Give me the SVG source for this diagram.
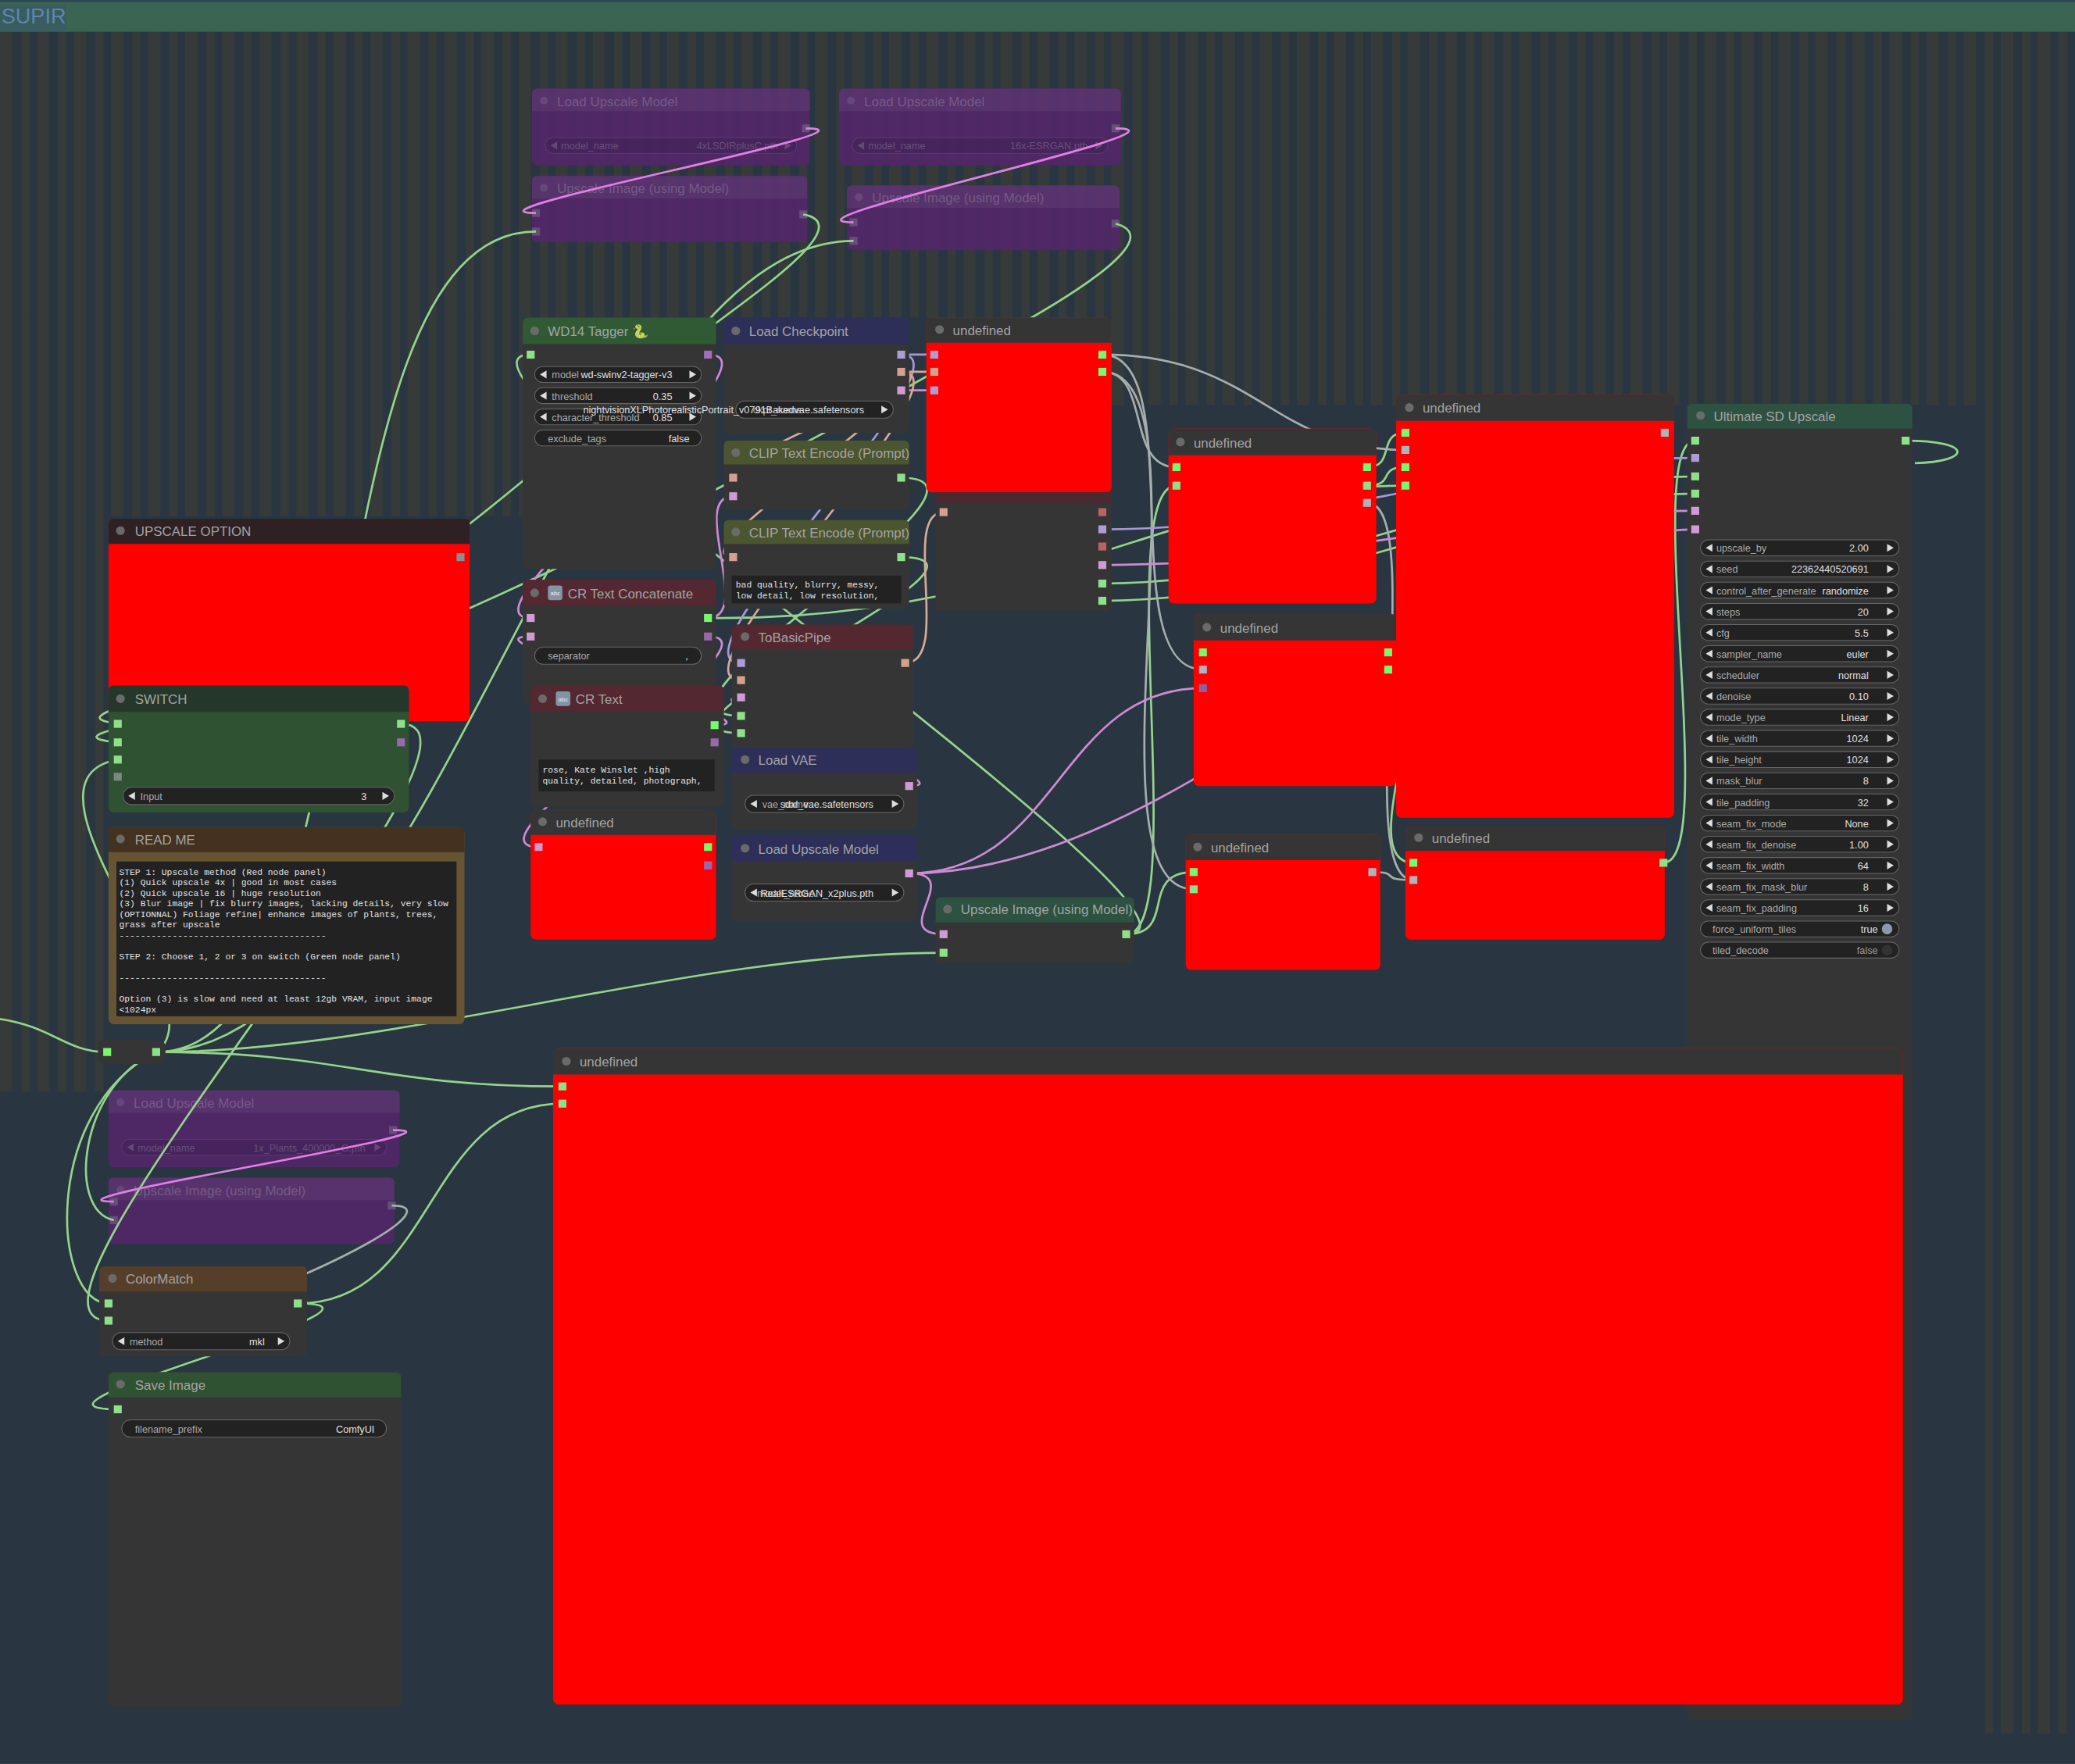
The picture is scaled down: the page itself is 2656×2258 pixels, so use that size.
<svg xmlns="http://www.w3.org/2000/svg" width="2656" height="2258" viewBox="0 0 2656 2258">
<defs>
<pattern id="st" x="0" y="0" width="28" height="10" patternUnits="userSpaceOnUse"><rect x="0" y="0" width="9" height="10" fill="#363b3a"/><rect x="16" y="0" width="6" height="10" fill="#363b3a"/></pattern>
<style>
.t{font-family:"Liberation Sans",Arial,sans-serif;font-size:10px;fill:#a3a3a3}
.ft{font-family:"Liberation Sans",Arial,sans-serif;font-size:10px;fill:#7d5e8f}
.wl{font-family:"Liberation Sans",Arial,sans-serif;font-size:7.5px;fill:#ababab}
.wv{font-family:"Liberation Sans",Arial,sans-serif;font-size:7.5px;fill:#e0e0e0;text-anchor:end}
.fw{font-family:"Liberation Sans",Arial,sans-serif;font-size:7.5px;fill:#6f5282}
.fwv{font-family:"Liberation Sans",Arial,sans-serif;font-size:7.5px;fill:#6f5282;text-anchor:end}
.m{font-family:"Liberation Mono","DejaVu Sans Mono",monospace;font-size:6.7px;fill:#e2e2e2}
.bd{fill:#353535}
.red{fill:#ff0000}
.hd{fill:#353535}
.dot{fill:#6a6a6a}
.wg{fill:#222;stroke:#666;stroke-width:0.6}
.fwg{fill:#4a2260;stroke:#5e3a72;stroke-width:0.6}
.ar{fill:#dddddd}
.far{fill:#6a4a7e}
.sg{fill:#8fe08a}
.sG{fill:#76f86f}
.sp{fill:#9868ac}
.sk{fill:#d09ad4}
.ss{fill:#d6a08e}
.sy{fill:#aeb4bc}
.sl{fill:#ad9dd6}
.sr{fill:#b86464}
.fn{fill:#53276a}
.fh{fill:#5c3372}
path.lg,path.lk,path.ll,path.ls,path.ly,path.lf{fill:none;stroke-width:1.6}
.lg{stroke:#95d38a}
.lk{stroke:#cf8ad2}
.ll{stroke:#a898d4}
.ls{stroke:#d9a891}
.ly{stroke:#a6adad}
.lf{stroke:#e27fe4}
</style>
</defs>
<g transform="scale(1.693878)">
<g id="background">
<rect x="0" y="0" width="1568" height="1333" fill="#293641"/>
<rect x="0" y="24" width="1568" height="216" fill="url(#st)"/>
<rect x="0" y="240" width="395" height="150" fill="url(#st)"/>
<rect x="0" y="390" width="80" height="435" fill="url(#st)"/>
<rect x="840" y="240" width="660" height="66" fill="url(#st)"/>
<rect x="1500" y="24" width="68" height="1286" fill="url(#st)"/>
<rect x="0" y="0" width="1568" height="24" fill="#3c6452"/>
<rect x="0" y="0" width="1568" height="1.5" fill="#2c4858"/>
<rect x="0" y="4" width="50" height="20" fill="#35566a" opacity="0.6"/>
<text x="1" y="18" font-family="'Liberation Sans',Arial,sans-serif" font-size="16" fill="#5f86a8">SUPIR</text>
</g>

<g id="n-faded-load-upscale-1" opacity="0.9">
<rect x="402" y="67" width="210" height="58" rx="4" class="fn"/>
<path d="M402,84 V71 Q402,67 406,67 H608 Q612,67 612,71 V84 Z" class="fh"/>
<circle cx="411" cy="76" r="3" fill="#6c4a80"/>
<text x="421" y="80" class="ft">Load Upscale Model</text>
<rect x="412" y="104" width="190" height="12" rx="6" class="fwg"/>
<polygon points="416,110 421,107 421,113" class="far"/>
<polygon points="598,110 593,107 593,113" class="far"/>
<text x="424" y="113" class="fw">model_name</text>
<text x="588" y="113" class="fwv">4xLSDIRplusC.pth</text>
<rect x="606" y="94" width="6" height="6" fill="#6c5280"/>
</g>
<g id="n-faded-upscale-1" opacity="0.9">
<rect x="402" y="133" width="208" height="50" rx="4" class="fn"/>
<path d="M402,150 V137 Q402,133 406,133 H606 Q610,133 610,137 V150 Z" class="fh"/>
<circle cx="411" cy="142" r="3" fill="#6c4a80"/>
<text x="421" y="146" class="ft">Upscale Image (using Model)</text>
<rect x="402" y="158" width="6" height="6" fill="#6c5280"/>
<rect x="402" y="172" width="6" height="6" fill="#6c5280"/>
<rect x="604" y="159" width="6" height="6" fill="#6c5280"/>
</g>
<g id="n-faded-load-upscale-2" opacity="0.9">
<rect x="634" y="67" width="213" height="58" rx="4" class="fn"/>
<path d="M634,84 V71 Q634,67 638,67 H843 Q847,67 847,71 V84 Z" class="fh"/>
<circle cx="643" cy="76" r="3" fill="#6c4a80"/>
<text x="653" y="80" class="ft">Load Upscale Model</text>
<rect x="644" y="104" width="193" height="12" rx="6" class="fwg"/>
<polygon points="648,110 653,107 653,113" class="far"/>
<polygon points="833,110 828,107 828,113" class="far"/>
<text x="656" y="113" class="fw">model_name</text>
<text x="822" y="113" class="fwv">16x-ESRGAN.pth</text>
<rect x="840" y="94" width="6" height="6" fill="#6c5280"/>
</g>
<g id="n-faded-upscale-2" opacity="0.9">
<rect x="640" y="140" width="206" height="49" rx="4" class="fn"/>
<path d="M640,157 V144 Q640,140 644,140 H842 Q846,140 846,144 V157 Z" class="fh"/>
<circle cx="649" cy="149" r="3" fill="#6c4a80"/>
<text x="659" y="153" class="ft">Upscale Image (using Model)</text>
<rect x="642" y="165" width="6" height="6" fill="#6c5280"/>
<rect x="642" y="179" width="6" height="6" fill="#6c5280"/>
<rect x="840" y="166" width="6" height="6" fill="#6c5280"/>
</g>
<g id="n-faded-load-upscale-3" opacity="0.9">
<rect x="82" y="824" width="220" height="58" rx="4" class="fn"/>
<path d="M82,841 V828 Q82,824 86,824 H298 Q302,824 302,828 V841 Z" class="fh"/>
<circle cx="91" cy="833" r="3" fill="#6c4a80"/>
<text x="101" y="837" class="ft">Load Upscale Model</text>
<rect x="92" y="861" width="200" height="12" rx="6" class="fwg"/>
<polygon points="96,867 101,864 101,870" class="far"/>
<polygon points="288,867 283,864 283,870" class="far"/>
<text x="104" y="870" class="fw">model_name</text>
<text x="276" y="870" class="fwv">1x_Plants_400000_G.pth</text>
<rect x="294" y="851" width="6" height="6" fill="#6c5280"/>
</g>
<g id="n-faded-upscale-3" opacity="0.9">
<rect x="82" y="890" width="216" height="50" rx="4" class="fn"/>
<path d="M82,907 V894 Q82,890 86,890 H294 Q298,890 298,894 V907 Z" class="fh"/>
<circle cx="91" cy="899" r="3" fill="#6c4a80"/>
<text x="101" y="903" class="ft">Upscale Image (using Model)</text>
<rect x="83" y="905" width="6" height="6" fill="#6c5280"/>
<rect x="83" y="919" width="6" height="6" fill="#6c5280"/>
<rect x="293" y="908" width="6" height="6" fill="#6c5280"/>
</g>

<g id="connectors">
<path class="lg" d="M0,770 C40,776 50,795 81,795"/>
<path class="lg" d="M118,795 C260,795 283,821 425,821"/>
<path class="lg" d="M118,795 C300,795 520,720 713,720"/>
<path class="lg" d="M118,795 C290,795 225,175 405,175"/>
<path class="lg" d="M118,795 C330,795 440,182 645,182"/>
<path class="lg" d="M118,795 C60,820 50,915 86,922"/>
<path class="lg" d="M118,795 C30,840 40,985 82,985"/>
<path class="lg" d="M303,547 C400,547 -18,998 82,998"/>
<path class="lg" d="M225,985 C330,985 320,834 425,834"/>
<path class="lg" d="M225,985 C325,985 -11,1065 89,1065"/>
<path class="lg" d="M607,162 C650,170 565,225 520,260 C420,340 360,400 250,470 C130,530 40,540 89,547"/>
<path class="lg" d="M843,169 C885,180 800,230 740,262 C560,365 330,480 200,520 C110,548 40,556 89,561"/>
<path class="lg" d="M118,795 C170,760 0,590 89,574"/>
<path class="lg" d="M851,706 C900,706 840,367 889,367"/>
<path class="lg" d="M851,706 C890,706 860,659 902,659"/>
<path class="lg" d="M851,706 C951,706 301,268 401,268"/>
<path class="lg" d="M833,441 C1000,441 1110,360 1281,360"/>
<path class="lg" d="M833,454 C1000,454 1110,373 1281,373"/>
<path class="lg" d="M681,361 C781,361 460,541 560,541"/>
<path class="lg" d="M681,421 C781,421 460,554 560,554"/>
<path class="lg" d="M535,467 C780,470 900,367 1062,367"/>
<path class="lg" d="M1033,353 C1055,353 1040,327 1062,327"/>
<path class="lg" d="M1033,367 C1055,367 1040,353 1062,353"/>
<path class="lg" d="M1257,652 C1300,652 1240,333 1281,333"/>
<path class="lg" d="M1440,333 C1492,333 1490,349 1447,350"/>
<path class="lg" d="M1049,493 C1100,493 1018,652 1068,652"/>
<path class="ly" d="M833,268 C950,268 960,340 1062,340"/>
<path class="ly" d="M833,281 C870,281 850,353 889,353"/>
<path class="ly" d="M833,268 C900,268 840,506 909,506"/>
<path class="ly" d="M833,281 C920,281 815,672 902,672"/>
<path class="ly" d="M1033,380 C1080,380 1020,665 1068,665"/>
<path class="ly" d="M1037,659 C1060,659 1040,665 1068,665"/>
<path class="ly" d="M348,421 C400,421 40,587 89,587"/>
<path class="ly" d="M296,911 C340,911 250,960 160,990"/>
<path class="lk" d="M535,268 C600,268 340,467 401,467"/>
<path class="lk" d="M540,548 C600,548 340,481 401,481"/>
<path class="lk" d="M535,467 C570,467 520,375 554,375"/>
<path class="lk" d="M535,481 C600,481 340,640 407,640"/>
<path class="lk" d="M687,660 C800,660 800,520 909,520"/>
<path class="lk" d="M687,660 C730,660 670,706 713,706"/>
<path class="lk" d="M833,427 C1000,427 1110,386 1281,386"/>
<path class="lk" d="M687,594 C740,594 510,527 560,527"/>
<path class="lk" d="M681,295 C693,295 694,295 706,295"/>
<path class="lk" d="M687,660 C900,660 1100,400 1281,400"/>
<path class="ll" d="M681,268 C693,268 694,268 706,268"/>
<path class="ll" d="M681,268 C740,268 500,501 560,501"/>
<path class="ll" d="M833,400 C1000,400 1110,346 1281,346"/>
<path class="ls" d="M681,281 L706,281"/>
<path class="ls" d="M681,281 C720,281 515,361 554,361"/>
<path class="ls" d="M681,281 C730,281 505,421 554,421"/>
<path class="ls" d="M684,501 C720,501 680,387 713,387"/>
<path class="ls" d="M681,281 C740,281 500,514 560,514"/>
<path class="lf" d="M609,97 C680,97 335,161 405,161"/>
<path class="lf" d="M843,97 C915,97 575,168 645,168"/>
<path class="lf" d="M297,854 C370,854 15,908 86,908"/>
</g>

<g id="n-upscale-option">
<rect x="82" y="392" width="273" height="153" rx="4" class="red"/>
<path d="M82,411 V396 Q82,392 86,392 H351 Q355,392 355,396 V411 Z" fill="#2f2123"/>
<circle cx="91" cy="401" r="3.3" class="dot"/>
<text x="102" y="405" class="t">UPSCALE OPTION</text>
<rect x="345" y="418" width="6" height="6" fill="#8a8f96"/>
</g>

<g id="n-switch">
<rect x="82" y="518" width="227" height="96" rx="4" fill="#2f5233"/>
<path d="M82,538 V522 Q82,518 86,518 H305 Q309,518 309,522 V538 Z" fill="#25372a"/>
<circle cx="91" cy="528" r="3.3" class="dot"/>
<text x="102" y="532" class="t">SWITCH</text>
<rect x="86" y="544" width="6" height="6" class="sg"/>
<rect x="86" y="558" width="6" height="6" class="sg"/>
<rect x="86" y="571" width="6" height="6" class="sg"/>
<rect x="86" y="584" width="6" height="6" fill="#7a8a80"/>
<rect x="300" y="544" width="6" height="6" class="sg"/>
<rect x="300" y="558" width="6" height="6" class="sp"/>
<rect x="93" y="595" width="205" height="13" rx="6.5" class="wg"/>
<polygon points="97,601.5 102,598.5 102,604.5" class="ar"/>
<polygon points="294,601.5 289,598.5 289,604.5" class="ar"/>
<text x="106" y="604.5" class="wl">Input</text>
<text x="277" y="604.5" class="wv">3</text>
</g>

<g id="n-readme">
<rect x="82" y="625" width="269" height="149" rx="4" fill="#665433"/>
<path d="M82,644 V629 Q82,625 86,625 H347 Q351,625 351,629 V644 Z" fill="#44311f"/>
<circle cx="91" cy="634" r="3.3" class="dot"/>
<text x="102" y="638" class="t">READ ME</text>
<rect x="88" y="651" width="257" height="117" fill="#222222"/>
<text x="90" y="661" class="m">STEP 1: Upscale method (Red node panel)</text>
<text x="90" y="669" class="m">(1) Quick upscale 4x | good in most cases</text>
<text x="90" y="677" class="m">(2) Quick upscale 16 | huge resolution</text>
<text x="90" y="685" class="m">(3) Blur image | fix blurry images, lacking details, very slow</text>
<text x="90" y="693" class="m">(OPTIONNAL) Foliage refine| enhance images of plants, trees,</text>
<text x="90" y="701" class="m">grass after upscale</text>
<text x="90" y="709" class="m">---------------------------------------</text>
<text x="90" y="725" class="m">STEP 2: Choose 1, 2 or 3 on switch (Green node panel)</text>
<text x="90" y="741" class="m">---------------------------------------</text>
<text x="90" y="757" class="m">Option (3) is slow and need at least 12gb VRAM, input image</text>
<text x="90" y="765" class="m">&lt;1024px</text>
</g>

<g id="n-reroute">
<rect x="74" y="786" width="51" height="18" rx="5" class="bd"/>
<rect x="78" y="792" width="6" height="6" class="sG"/>
<rect x="115" y="792" width="6" height="6" class="sg"/>
</g>

<g id="n-colormatch">
<rect x="75" y="957" width="157" height="68" rx="4" class="bd"/>
<path d="M75,976 V961 Q75,957 79,957 H228 Q232,957 232,961 V976 Z" fill="#563f2a"/>
<circle cx="85" cy="966" r="3.3" class="dot"/>
<text x="95" y="970" class="t">ColorMatch</text>
<rect x="79" y="982" width="6" height="6" class="sg"/>
<rect x="79" y="995" width="6" height="6" class="sg"/>
<rect x="222" y="982" width="6" height="6" class="sg"/>
<rect x="85" y="1007" width="134" height="13" rx="6.5" class="wg"/>
<polygon points="89,1013.5 94,1010.5 94,1016.5" class="ar"/>
<polygon points="215,1013.5 210,1010.5 210,1016.5" class="ar"/>
<text x="98" y="1016.5" class="wl">method</text>
<text x="200" y="1016.5" class="wv">mkl</text>
</g>

<g id="n-save-image">
<rect x="82" y="1037" width="221" height="253" rx="4" class="bd"/>
<path d="M82,1056 V1041 Q82,1037 86,1037 H299 Q303,1037 303,1041 V1056 Z" fill="#2f5233"/>
<circle cx="91" cy="1046" r="3.3" class="dot"/>
<text x="102" y="1050" class="t">Save Image</text>
<rect x="86" y="1062" width="6" height="6" class="sg"/>
<rect x="92" y="1073" width="200" height="13" rx="6.5" class="wg"/>
<text x="102" y="1082.5" class="wl">filename_prefix</text>
<text x="283" y="1082.5" class="wv">ComfyUI</text>
</g>

<g id="n-ultimate-sd-upscale">
<rect x="1275" y="305" width="170" height="995" rx="4" class="bd"/>
<path d="M1275,324 V309 Q1275,305 1279,305 H1441 Q1445,305 1445,309 V324 Z" fill="#2d5242"/>
<circle cx="1285" cy="314" r="3.3" class="dot"/>
<text x="1295" y="318" class="t">Ultimate SD Upscale</text>
<rect x="1278" y="330" width="6" height="6" class="sg"/>
<rect x="1278" y="343" width="6" height="6" class="sl"/>
<rect x="1278" y="357" width="6" height="6" class="sg"/>
<rect x="1278" y="370" width="6" height="6" class="sg"/>
<rect x="1278" y="383" width="6" height="6" class="sk"/>
<rect x="1278" y="397" width="6" height="6" class="sk"/>
<rect x="1437" y="330" width="6" height="6" class="sg"/>
<g>
<rect x="1285" y="408" width="150" height="12" rx="6" class="wg"/><polygon points="1289,414 1294,411 1294,417" class="ar"/><polygon points="1431,414 1426,411 1426,417" class="ar"/><text x="1297" y="417" class="wl">upscale_by</text><text x="1412" y="417" class="wv">2.00</text>
<rect x="1285" y="424" width="150" height="12" rx="6" class="wg"/><polygon points="1289,430 1294,427 1294,433" class="ar"/><polygon points="1431,430 1426,427 1426,433" class="ar"/><text x="1297" y="433" class="wl">seed</text><text x="1412" y="433" class="wv">22362440520691</text>
<rect x="1285" y="440" width="150" height="12" rx="6" class="wg"/><polygon points="1289,446 1294,443 1294,449" class="ar"/><polygon points="1431,446 1426,443 1426,449" class="ar"/><text x="1297" y="449" class="wl">control_after_generate</text><text x="1412" y="449" class="wv">randomize</text>
<rect x="1285" y="456" width="150" height="12" rx="6" class="wg"/><polygon points="1289,462 1294,459 1294,465" class="ar"/><polygon points="1431,462 1426,459 1426,465" class="ar"/><text x="1297" y="465" class="wl">steps</text><text x="1412" y="465" class="wv">20</text>
<rect x="1285" y="472" width="150" height="12" rx="6" class="wg"/><polygon points="1289,478 1294,475 1294,481" class="ar"/><polygon points="1431,478 1426,475 1426,481" class="ar"/><text x="1297" y="481" class="wl">cfg</text><text x="1412" y="481" class="wv">5.5</text>
<rect x="1285" y="488" width="150" height="12" rx="6" class="wg"/><polygon points="1289,494 1294,491 1294,497" class="ar"/><polygon points="1431,494 1426,491 1426,497" class="ar"/><text x="1297" y="497" class="wl">sampler_name</text><text x="1412" y="497" class="wv">euler</text>
<rect x="1285" y="504" width="150" height="12" rx="6" class="wg"/><polygon points="1289,510 1294,507 1294,513" class="ar"/><polygon points="1431,510 1426,507 1426,513" class="ar"/><text x="1297" y="513" class="wl">scheduler</text><text x="1412" y="513" class="wv">normal</text>
<rect x="1285" y="520" width="150" height="12" rx="6" class="wg"/><polygon points="1289,526 1294,523 1294,529" class="ar"/><polygon points="1431,526 1426,523 1426,529" class="ar"/><text x="1297" y="529" class="wl">denoise</text><text x="1412" y="529" class="wv">0.10</text>
<rect x="1285" y="536" width="150" height="12" rx="6" class="wg"/><polygon points="1289,542 1294,539 1294,545" class="ar"/><polygon points="1431,542 1426,539 1426,545" class="ar"/><text x="1297" y="545" class="wl">mode_type</text><text x="1412" y="545" class="wv">Linear</text>
<rect x="1285" y="552" width="150" height="12" rx="6" class="wg"/><polygon points="1289,558 1294,555 1294,561" class="ar"/><polygon points="1431,558 1426,555 1426,561" class="ar"/><text x="1297" y="561" class="wl">tile_width</text><text x="1412" y="561" class="wv">1024</text>
<rect x="1285" y="568" width="150" height="12" rx="6" class="wg"/><polygon points="1289,574 1294,571 1294,577" class="ar"/><polygon points="1431,574 1426,571 1426,577" class="ar"/><text x="1297" y="577" class="wl">tile_height</text><text x="1412" y="577" class="wv">1024</text>
<rect x="1285" y="584" width="150" height="12" rx="6" class="wg"/><polygon points="1289,590 1294,587 1294,593" class="ar"/><polygon points="1431,590 1426,587 1426,593" class="ar"/><text x="1297" y="593" class="wl">mask_blur</text><text x="1412" y="593" class="wv">8</text>
<rect x="1285" y="600" width="150" height="12" rx="6" class="wg"/><polygon points="1289,606 1294,603 1294,609" class="ar"/><polygon points="1431,606 1426,603 1426,609" class="ar"/><text x="1297" y="609" class="wl">tile_padding</text><text x="1412" y="609" class="wv">32</text>
<rect x="1285" y="616" width="150" height="12" rx="6" class="wg"/><polygon points="1289,622 1294,619 1294,625" class="ar"/><polygon points="1431,622 1426,619 1426,625" class="ar"/><text x="1297" y="625" class="wl">seam_fix_mode</text><text x="1412" y="625" class="wv">None</text>
<rect x="1285" y="632" width="150" height="12" rx="6" class="wg"/><polygon points="1289,638 1294,635 1294,641" class="ar"/><polygon points="1431,638 1426,635 1426,641" class="ar"/><text x="1297" y="641" class="wl">seam_fix_denoise</text><text x="1412" y="641" class="wv">1.00</text>
<rect x="1285" y="648" width="150" height="12" rx="6" class="wg"/><polygon points="1289,654 1294,651 1294,657" class="ar"/><polygon points="1431,654 1426,651 1426,657" class="ar"/><text x="1297" y="657" class="wl">seam_fix_width</text><text x="1412" y="657" class="wv">64</text>
<rect x="1285" y="664" width="150" height="12" rx="6" class="wg"/><polygon points="1289,670 1294,667 1294,673" class="ar"/><polygon points="1431,670 1426,667 1426,673" class="ar"/><text x="1297" y="673" class="wl">seam_fix_mask_blur</text><text x="1412" y="673" class="wv">8</text>
<rect x="1285" y="680" width="150" height="12" rx="6" class="wg"/><polygon points="1289,686 1294,683 1294,689" class="ar"/><polygon points="1431,686 1426,683 1426,689" class="ar"/><text x="1297" y="689" class="wl">seam_fix_padding</text><text x="1412" y="689" class="wv">16</text>
<rect x="1285" y="696" width="150" height="12" rx="6" class="wg"/><text x="1294" y="705" class="wl">force_uniform_tiles</text><text x="1419" y="705" class="wv">true</text><circle cx="1426" cy="702" r="4" fill="#8e98ac"/>
<rect x="1285" y="712" width="150" height="12" rx="6" class="wg"/><text x="1294" y="721" class="wl">tiled_decode</text><text x="1419" y="721" class="wv" style="fill:#999">false</text><circle cx="1426" cy="718" r="4" fill="#333"/>
</g>
</g>

<g id="n-undefined-big">
<rect x="418" y="792" width="1020" height="496" rx="4" class="red"/>
<path d="M418,812 V796 Q418,792 422,792 H1434 Q1438,792 1438,796 V812 Z" class="hd"/>
<circle cx="428" cy="802" r="3.3" class="dot"/>
<text x="438" y="806" class="t">undefined</text>
<rect x="422" y="818" width="6" height="6" class="sg"/>
<rect x="422" y="831" width="6" height="6" class="sg"/>
</g>

<g id="n-wd14-tagger">
<rect x="395" y="240" width="146" height="190" rx="4" class="bd"/>
<path d="M395,260 V244 Q395,240 399,240 H537 Q541,240 541,244 V260 Z" fill="#2f5a34"/>
<circle cx="404" cy="250" r="3.3" class="dot"/>
<text x="414" y="254" class="t">WD14 Tagger 🐍</text>
<rect x="398" y="265" width="6" height="6" class="sg"/>
<rect x="532" y="265" width="6" height="6" fill="#a070b8"/>
<rect x="404" y="277" width="126" height="12" rx="6" class="wg"/><polygon points="408,283 413,280 413,286" class="ar"/><polygon points="526,283 521,280 521,286" class="ar"/><text x="417" y="286" class="wl">model</text><text x="508" y="286" class="wv">wd-swinv2-tagger-v3</text>
<rect x="404" y="293" width="126" height="12" rx="6" class="wg"/><polygon points="408,299 413,296 413,302" class="ar"/><polygon points="526,299 521,296 521,302" class="ar"/><text x="417" y="302" class="wl">threshold</text><text x="508" y="302" class="wv">0.35</text>
<rect x="404" y="309" width="126" height="12" rx="6" class="wg"/><polygon points="408,315 413,312 413,318" class="ar"/><polygon points="526,315 521,312 521,318" class="ar"/><text x="417" y="318" class="wl">character_threshold</text><text x="508" y="318" class="wv">0.85</text>
<rect x="404" y="325" width="126" height="12" rx="6" class="wg"/><text x="414" y="334" class="wl">exclude_tags</text><text x="521" y="334" class="wv">false</text>
</g>

<g id="n-load-checkpoint">
<rect x="547" y="240" width="140" height="87" rx="4" class="bd"/>
<path d="M547,260 V244 Q547,240 551,240 H683 Q687,240 687,244 V260 Z" fill="#2e2f58"/>
<circle cx="556" cy="250" r="3.3" class="dot"/>
<text x="566" y="254" class="t">Load Checkpoint</text>
<rect x="678" y="265" width="6" height="6" class="sl"/>
<rect x="678" y="278" width="6" height="6" class="ss"/>
<rect x="678" y="292" width="6" height="6" class="sk"/>
<rect x="556" y="303" width="119" height="13" rx="6.5" class="wg"/>
<polygon points="671,309.5 666,306.5 666,312.5" class="ar"/>
<text x="569" y="312.5" class="wl">ckpt_name</text>
<text x="653" y="312.5" class="wv">nightvisionXLPhotorealisticPortrait_v0791Bakedvae.safetensors</text>
</g>

<g id="n-clip-text-encode-1">
<rect x="547" y="333" width="140" height="52" rx="4" class="bd"/>
<path d="M547,351 V337 Q547,333 551,333 H683 Q687,333 687,337 V351 Z" fill="#4b5530"/>
<circle cx="556" cy="342" r="3.3" class="dot"/>
<text x="566" y="346" class="t">CLIP Text Encode (Prompt)</text>
<rect x="551" y="358" width="6" height="6" class="ss"/>
<rect x="551" y="372" width="6" height="6" class="sk"/>
<rect x="678" y="358" width="6" height="6" class="sg"/>
</g>

<g id="n-clip-text-encode-2">
<rect x="547" y="393" width="140" height="67" rx="4" class="bd"/>
<path d="M547,411 V397 Q547,393 551,393 H683 Q687,393 687,397 V411 Z" fill="#4b5530"/>
<circle cx="556" cy="402" r="3.3" class="dot"/>
<text x="566" y="406" class="t">CLIP Text Encode (Prompt)</text>
<rect x="551" y="418" width="6" height="6" class="ss"/>
<rect x="678" y="418" width="6" height="6" class="sg"/>
<rect x="553" y="435" width="128" height="21" fill="#222222"/>
<text x="556" y="444" class="m">bad quality, blurry, messy,</text>
<text x="556" y="452" class="m">low detail, low resolution,</text>
</g>

<g id="n-hidden-pipe">
<rect x="707" y="362" width="133" height="100" rx="4" class="bd"/>
<path d="M707,380 V366 Q707,362 711,362 H836 Q840,362 840,366 V380 Z" fill="#4a2a30"/>
<rect x="710" y="384" width="6" height="6" class="ss"/>
<rect x="830" y="384" width="6" height="6" class="sr"/>
<rect x="830" y="397" width="6" height="6" class="sl"/>
<rect x="830" y="410" width="6" height="6" class="sr"/>
<rect x="830" y="424" width="6" height="6" class="sk"/>
<rect x="830" y="438" width="6" height="6" class="sg"/>
<rect x="830" y="451" width="6" height="6" class="sg"/>
</g>

<g id="n-undefined-top">
<rect x="700" y="240" width="140" height="132" rx="4" class="red"/>
<path d="M700,259 V244 Q700,240 704,240 H836 Q840,240 840,244 V259 Z" class="hd"/>
<circle cx="710" cy="249" r="3.3" class="dot"/>
<text x="720" y="253" class="t">undefined</text>
<rect x="703" y="265" width="6" height="6" class="sl"/>
<rect x="703" y="278" width="6" height="6" class="ss"/>
<rect x="703" y="292" width="6" height="6" class="sl"/>
<rect x="830" y="265" width="6" height="6" class="sG"/>
<rect x="830" y="278" width="6" height="6" class="sG"/>
</g>

<g id="n-cr-text-concatenate">
<rect x="395" y="438" width="146" height="94" rx="4" class="bd"/>
<path d="M395,458 V442 Q395,438 399,438 H537 Q541,438 541,442 V458 Z" fill="#532831"/>
<circle cx="404" cy="448" r="3.3" class="dot"/>
<rect x="414" y="442.5" width="11" height="11" rx="2" fill="#8395a5"/>
<text x="419.5" y="450" font-family="'Liberation Sans',Arial,sans-serif" font-size="4.5" fill="#eeeeee" text-anchor="middle">abc</text>
<text x="429" y="452" class="t">CR Text Concatenate</text>
<rect x="398" y="464" width="6" height="6" class="sk"/>
<rect x="398" y="478" width="6" height="6" class="sk"/>
<rect x="532" y="464" width="6" height="6" class="sG"/>
<rect x="532" y="478" width="6" height="6" class="sp"/>
<rect x="404" y="489" width="126" height="13" rx="6.5" class="wg"/>
<text x="414" y="498.5" class="wl">separator</text>
<text x="520" y="498.5" class="wv">,</text>
</g>

<g id="n-cr-text">
<rect x="401" y="518" width="146" height="92" rx="4" class="bd"/>
<path d="M401,538 V522 Q401,518 405,518 H543 Q547,518 547,522 V538 Z" fill="#532831"/>
<circle cx="410" cy="528" r="3.3" class="dot"/>
<rect x="420" y="522.5" width="11" height="11" rx="2" fill="#8395a5"/>
<text x="425.5" y="530" font-family="'Liberation Sans',Arial,sans-serif" font-size="4.5" fill="#eeeeee" text-anchor="middle">abc</text>
<text x="435" y="532" class="t">CR Text</text>
<rect x="537" y="545" width="6" height="6" class="sG"/>
<rect x="537" y="558" width="6" height="6" class="sp"/>
<rect x="407" y="574" width="133" height="24" fill="#222222"/>
<text x="410" y="584" class="m">rose, Kate Winslet ,high</text>
<text x="410" y="592" class="m">quality, detailed, photograph,</text>
</g>

<g id="n-undefined-left">
<rect x="401" y="612" width="140" height="98" rx="4" class="red"/>
<path d="M401,631 V616 Q401,612 405,612 H537 Q541,612 541,616 V631 Z" class="hd"/>
<circle cx="410" cy="621" r="3.3" class="dot"/>
<text x="420" y="625" class="t">undefined</text>
<rect x="404" y="637" width="6" height="6" class="sk"/>
<rect x="532" y="637" width="6" height="6" class="sG"/>
<rect x="532" y="651" width="6" height="6" class="sp"/>
</g>

<g id="n-tobasicpipe">
<rect x="553" y="472" width="137" height="93" rx="4" class="bd"/>
<path d="M553,491 V476 Q553,472 557,472 H686 Q690,472 690,476 V491 Z" fill="#532831"/>
<circle cx="563" cy="481" r="3.3" class="dot"/>
<text x="573" y="485" class="t">ToBasicPipe</text>
<rect x="557" y="498" width="6" height="6" class="sl"/>
<rect x="557" y="511" width="6" height="6" class="ss"/>
<rect x="557" y="524" width="6" height="6" class="sk"/>
<rect x="557" y="538" width="6" height="6" class="sg"/>
<rect x="557" y="551" width="6" height="6" class="sg"/>
<rect x="681" y="498" width="6" height="6" class="ss"/>
</g>

<g id="n-load-vae">
<rect x="553" y="565" width="140" height="62" rx="4" class="bd"/>
<path d="M553,584 V569 Q553,565 557,565 H689 Q693,565 693,569 V584 Z" fill="#2e2f58"/>
<circle cx="563" cy="574" r="3.3" class="dot"/>
<text x="573" y="578" class="t">Load VAE</text>
<rect x="684" y="591" width="6" height="6" class="sk"/>
<rect x="563" y="601" width="120" height="13" rx="6.5" class="wg"/>
<polygon points="567,607.5 572,604.5 572,610.5" class="ar"/>
<polygon points="679,607.5 674,604.5 674,610.5" class="ar"/>
<text x="576" y="610.5" class="wl">vae_name</text>
<text x="660" y="610.5" class="wv">sdxl_vae.safetensors</text>
</g>

<g id="n-load-upscale-model">
<rect x="553" y="631" width="140" height="65" rx="4" class="bd"/>
<path d="M553,651 V635 Q553,631 557,631 H689 Q693,631 693,635 V651 Z" fill="#2e2f58"/>
<circle cx="563" cy="641" r="3.3" class="dot"/>
<text x="573" y="645" class="t">Load Upscale Model</text>
<rect x="684" y="657" width="6" height="6" class="sk"/>
<rect x="563" y="668" width="120" height="13" rx="6.5" class="wg"/>
<polygon points="567,674.5 572,671.5 572,677.5" class="ar"/>
<polygon points="679,674.5 674,671.5 674,677.5" class="ar"/>
<text x="572" y="677.5" class="wl">model_name</text>
<text x="660" y="677.5" class="wv">RealESRGAN_x2plus.pth</text>
</g>

<g id="n-upscale-image">
<rect x="707" y="678" width="150" height="50" rx="4" class="bd"/>
<path d="M707,697 V682 Q707,678 711,678 H853 Q857,678 857,682 V697 Z" fill="#2d5242"/>
<circle cx="716" cy="687" r="3.3" class="dot"/>
<text x="726" y="691" class="t">Upscale Image (using Model)</text>
<rect x="710" y="703" width="6" height="6" class="sk"/>
<rect x="710" y="717" width="6" height="6" class="sg"/>
<rect x="848" y="703" width="6" height="6" class="sg"/>
</g>

<g id="n-undefined-mid1">
<rect x="883" y="324" width="157" height="132" rx="4" class="red"/>
<path d="M883,344 V328 Q883,324 887,324 H1036 Q1040,324 1040,328 V344 Z" class="hd"/>
<circle cx="892" cy="334" r="3.3" class="dot"/>
<text x="902" y="338" class="t">undefined</text>
<rect x="886" y="350" width="6" height="6" class="sG"/>
<rect x="886" y="364" width="6" height="6" class="sg"/>
<rect x="1030" y="350" width="6" height="6" class="sG"/>
<rect x="1030" y="364" width="6" height="6" class="sg"/>
<rect x="1030" y="377" width="6" height="6" class="sy"/>
</g>

<g id="n-undefined-large">
<rect x="1055" y="298" width="210" height="320" rx="4" class="red"/>
<path d="M1055,318 V302 Q1055,298 1059,298 H1261 Q1265,298 1265,302 V318 Z" class="hd"/>
<circle cx="1065" cy="308" r="3.3" class="dot"/>
<text x="1075" y="312" class="t">undefined</text>
<rect x="1059" y="324" width="6" height="6" class="sG"/>
<rect x="1059" y="337" width="6" height="6" class="sy"/>
<rect x="1059" y="350" width="6" height="6" class="sG"/>
<rect x="1059" y="364" width="6" height="6" class="sG"/>
<rect x="1255" y="324" width="6" height="6" class="sy"/>
</g>

<g id="n-undefined-mid2">
<rect x="902" y="464" width="153" height="130" rx="4" class="red"/>
<path d="M902,484 V468 Q902,464 906,464 H1051 Q1055,464 1055,468 V484 Z" class="hd"/>
<circle cx="912" cy="474" r="3.3" class="dot"/>
<text x="922" y="478" class="t">undefined</text>
<rect x="906" y="490" width="6" height="6" class="sG"/>
<rect x="906" y="503" width="6" height="6" class="sy"/>
<rect x="906" y="517" width="6" height="6" fill="#8a62a0"/>
<rect x="1046" y="490" width="6" height="6" class="sG"/>
<rect x="1046" y="503" width="6" height="6" class="sG"/>
</g>

<g id="n-undefined-bottom1">
<rect x="896" y="630" width="147" height="103" rx="4" class="red"/>
<path d="M896,650 V634 Q896,630 900,630 H1039 Q1043,630 1043,634 V650 Z" class="hd"/>
<circle cx="905" cy="640" r="3.3" class="dot"/>
<text x="915" y="644" class="t">undefined</text>
<rect x="899" y="656" width="6" height="6" class="sG"/>
<rect x="899" y="669" width="6" height="6" class="sg"/>
<rect x="1034" y="656" width="6" height="6" class="sy"/>
</g>

<g id="n-undefined-bottom2">
<rect x="1062" y="624" width="196" height="86" rx="4" class="red"/>
<path d="M1062,643 V628 Q1062,624 1066,624 H1254 Q1258,624 1258,628 V643 Z" class="hd"/>
<circle cx="1072" cy="633" r="3.3" class="dot"/>
<text x="1082" y="637" class="t">undefined</text>
<rect x="1065" y="649" width="6" height="6" class="sG"/>
<rect x="1065" y="662" width="6" height="6" class="sy"/>
<rect x="1254" y="649" width="6" height="6" class="sg"/>
</g>
</g>
</svg>
